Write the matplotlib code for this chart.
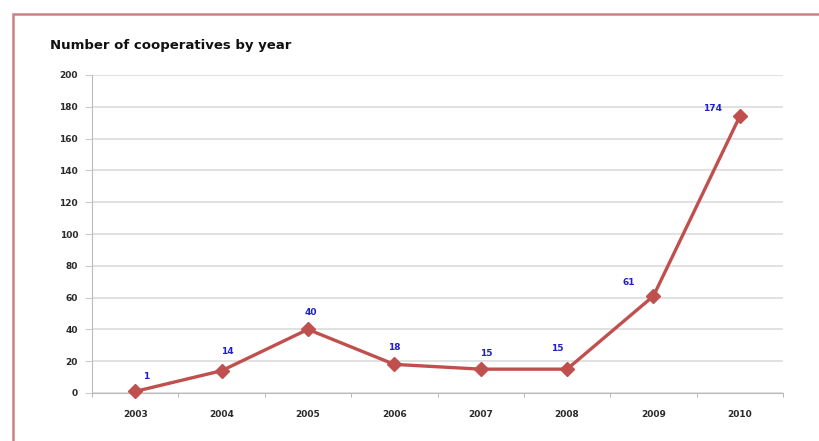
import matplotlib
matplotlib.use("Agg")
import matplotlib.pyplot as plt
from matplotlib.patches import Rectangle

years = ["2003", "2004", "2005", "2006", "2007", "2008", "2009", "2010"]
counts = [1, 14, 40, 18, 15, 15, 61, 174]
y_ticks = [0, 20, 40, 60, 80, 100, 120, 140, 160, 180, 200]
title = "Number of cooperatives by year"

# label offsets in points (layout only)
label_offsets = [(8, 11), (4, 14), (2, 12), (0, 12), (4, 11), (-7, 15), (-18, 10), (-20, 6)]

W, H = 819, 441
fig = plt.figure(figsize=(W / 100, H / 100), dpi=100)
fig.patch.set_facecolor("white")

# outer border
fig.patches.append(Rectangle((13 / W, -0.1), 1.2, 1 - 14 / H + 0.1, transform=fig.transFigure,
                             fill=False, edgecolor="#c98282", linewidth=1.8))

ax = fig.add_axes([92 / W, 1 - 393 / H, (783 - 92) / W, (393 - 75) / H])
x = list(range(len(years)))
ax.plot(x, counts, color="#c0504d", linewidth=2.4, marker="D", markersize=7,
        markerfacecolor="#c0504d", markeredgecolor="#c0504d", zorder=3, clip_on=False)

for xi, v, (dx, dy) in zip(x, counts, label_offsets):
    ax.annotate(str(v), (xi, v), xytext=(dx, dy), textcoords="offset points",
                ha="center", va="center", color="#1f1fd0", fontsize=6.5, fontweight="bold")

ax.set_xlim(-0.5, len(years) - 0.5)
ax.set_ylim(0, 200)
ax.set_yticks(y_ticks)
ax.set_yticklabels([str(t) for t in y_ticks], fontsize=6.5, fontweight="bold", color="#2a2a2a")
ax.set_xticks(x)
ax.set_xticklabels(years, fontsize=6.5, fontweight="bold", color="#2a2a2a")
ax.set_xticks([i - 0.5 for i in range(len(years) + 1)], minor=True)
ax.tick_params(axis="x", which="major", length=0, pad=12)
ax.tick_params(axis="x", which="minor", length=3, color="#aaaaaa", direction="out")
ax.tick_params(axis="y", length=5, color="#cccccc", pad=5)

ax.grid(axis="y", color="#dcdcdc", linewidth=1.2)
ax.set_axisbelow(True)
for s in ["top", "right"]:
    ax.spines[s].set_visible(False)
ax.spines["left"].set_color("#bbbbbb")
ax.spines["bottom"].set_color("#bbbbbb")

fig.text(50 / W, 1 - 45 / H, title, fontsize=9.5, fontweight="bold", ha="left", va="center",
         color="#111111")

fig.savefig("out.png", dpi=100, facecolor="white")
